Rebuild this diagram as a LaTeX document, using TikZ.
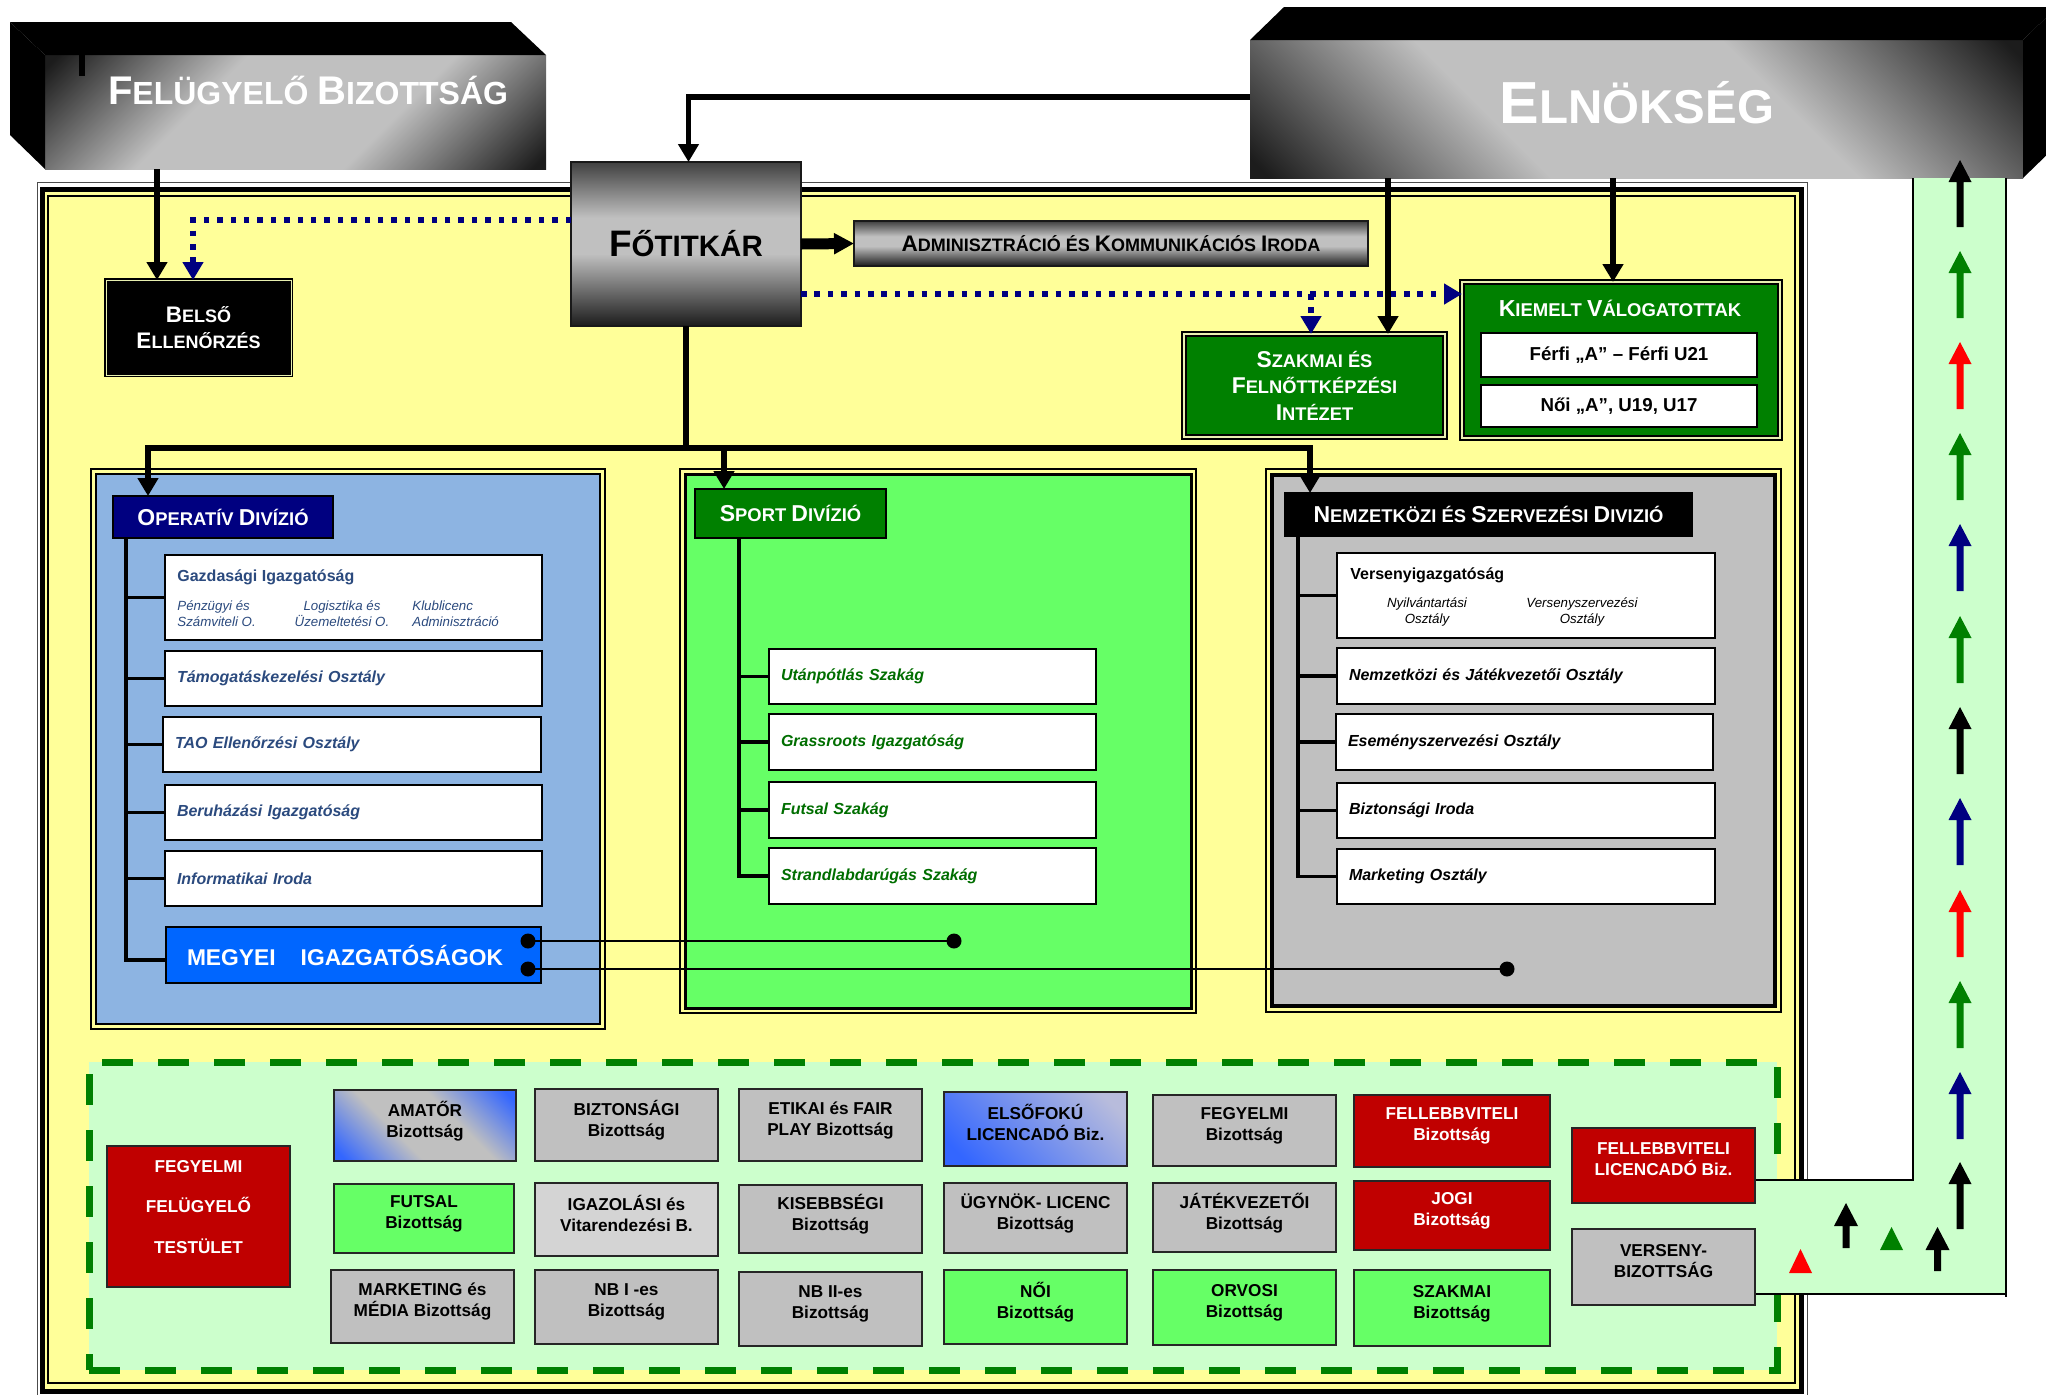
\documentclass[tikz,border=0pt]{standalone}
\usepackage{fontspec}
\setmainfont{Liberation Sans}
\usetikzlibrary{arrows.meta}
\definecolor{yel}{HTML}{FFFF99}
\definecolor{lgreen}{HTML}{CCFFCC}
\definecolor{bgreen}{HTML}{66FF66}
\definecolor{dgreen}{HTML}{008000}
\definecolor{navyc}{HTML}{000080}
\definecolor{opblue}{HTML}{8DB4E2}
\definecolor{megblue}{HTML}{0066FF}
\definecolor{silv}{HTML}{C0C0C0}
\definecolor{lsilv}{HTML}{D4D4D4}
\definecolor{sdark}{HTML}{1C1C1C}
\definecolor{sdarkb}{HTML}{404040}
\definecolor{cred}{HTML}{C00000}
\definecolor{ared}{HTML}{FF0000}
\definecolor{bblue}{HTML}{3366FF}
\definecolor{lavsilv}{HTML}{B8BCDC}
\definecolor{optxtc}{HTML}{2B4A7E}
\definecolor{sptxtc}{HTML}{006E00}
\definecolor{thinl}{HTML}{E8F0B0}
\pgfdeclareverticalshading{silverband}{100bp}{color(0bp)=(sdark); color(16bp)=(sdark); color(38bp)=(silv); color(62bp)=(silv); color(84bp)=(sdark); color(100bp)=(sdark)}
\pgfdeclareverticalshading{silververt}{100bp}{color(0bp)=(sdark); color(25bp)=(sdark); color(47bp)=(silv); color(58bp)=(silv); color(75bp)=(sdarkb); color(100bp)=(sdarkb)}
\pgfdeclareverticalshading{blueband}{100bp}{color(0bp)=(bblue); color(18bp)=(bblue); color(40bp)=(silv); color(60bp)=(silv); color(82bp)=(bblue); color(100bp)=(bblue)}
\pgfdeclareverticalshading{bluelin}{100bp}{color(0bp)=(bblue); color(22bp)=(bblue); color(78bp)=(lavsilv); color(100bp)=(lavsilv)}
\newcommand\pxf[2]{\fontsize{\fpeval{(#1)/2}}{\fpeval{(#2)/2}}\selectfont}
\newcommand\Kc[1]{{\fontsize{\fpeval{\csname f@size\endcsname*1.25}}{1}\selectfont #1}}
\newcommand\blkarrow[7]{\fill[#7] ({#1-#4},{#2+#3}) -- ({#1-#4},{#2+#6}) -- ({#1-#5},{#2+#6}) -- (#1,#2) -- ({#1+#5},{#2+#6}) -- ({#1+#4},{#2+#6}) -- ({#1+#4},{#2+#3}) -- cycle;}
\tikzset{
  at box/.style n args={4}{minimum width={((#3)-(#1))*0.5pt}, minimum height={((#4)-(#2))*0.5pt}, at={({((#1)+(#3))/2},{((#2)+(#4))/2})}, inner sep=0pt, outer sep=0pt, anchor=center},
  wbox/.style n args={4}{at box={#1}{#2}{#3}{#4}, fill=white, draw=black, line width=1.1pt, text width={((#3)-(#1)-24)*0.5pt}, inner xsep=6pt, align=left},
  optx/.style={text=optxtc, font=\pxf{16}{19}\bfseries\itshape},
  sptx/.style={text=sptxtc, font=\pxf{16}{19}\bfseries\itshape},
  nztx/.style={text=black, font=\pxf{16}{19}\bfseries\itshape},
  subt/.style={font=\pxf{13.3}{16}\mdseries\itshape, inner sep=0pt},
  divlabel/.style={draw=black, line width=1pt, text=white, font=\pxf{18.4}{20}\bfseries},
  thickl/.style={line width=2.75pt},
  conn/.style={thickl, -{Triangle[width=10pt,length=9pt]}},
  dotc/.style={draw=navyc, line width=3pt, dash pattern=on 2.75pt off 3.95pt, -{Triangle[width=10pt,length=9pt]}},
  tree/.style={line width=1.6pt},
  cbox/.style n args={4}{at box={#1}{#2}{#3}{#4}, draw=black!85, line width=1.1pt, align=center, font=\pxf{17.2}{21}\bfseries, execute at end node={\rule[-6.5pt]{0pt}{0pt}}},
  ttl/.style={text=white, inner sep=0pt},
}
\begin{document}
\begin{tikzpicture}[x=0.5pt,y=-0.5pt,font=\pxf{16}{19}\bfseries]
\useasboundingbox (0,0) rectangle (2046,1394);
\fill[white] (0,0) rectangle (2046,1394);
% ---------- main frame
\draw[line width=0.5pt,black!70] (37,182) rectangle (1807,1400);
\filldraw[fill=yel, line width=2.5pt] (42.5,189) rectangle (1801.5,1391);
\draw[line width=0.8pt] (48,196) rectangle (1795,1383);
% ---------- Felugyelo Bizottsag
\node[at box={45}{55}{546}{169}, shading=silverband, shading angle=45] (felugy) {};
\fill (felugy.north west) -- ++(-35,-33) -- ++(501,0) -- (felugy.north east) -- cycle;
\fill (felugy.north west) -- ++(-35,-33) -- ++(0,113) -- (felugy.south west) -- cycle;
\fill (79,55) rectangle (85,76);
\node[ttl] (felugy-t) at (308,90) {\pxf{32}{36}\Kc{F}ELÜGYELŐ \Kc{B}IZOTTSÁG};
% ---------- Elnokseg
\node[at box={1250}{40}{2023}{178}, shading=silverband, shading angle=-45] (elnok) {};
\fill (elnok.north west) -- ++(34,-33) -- ++(773,0) -- (elnok.north east) -- cycle;
\fill (elnok.north east) -- ++(34,-33) -- ++(0,138) -- (elnok.south east) -- cycle;
\node[ttl] (elnok-t) at (1637,103) {\pxf{47.5}{50}\Kc{E}LNÖKSÉG};
% ---------- bottom committee region
\node[at box={89}{1062}{1777}{1370}, fill=lgreen, draw=dgreen, line width=3.5pt, dash pattern=on 15.5pt off 12.5pt] (bizregion) {};
% ---------- right channel
\fill[lgreen] (1756,1180) -- (1913,1180) -- (1913,178) -- (2006,178) -- (2006,1294) -- (1756,1294) -- cycle;
\draw[line width=1pt] (1756,1180) -- (1913,1180) -- (1913,178);
\draw[line width=1pt] (2006,178) -- (2006,1297);
\draw[line width=1pt] (1756,1294) -- (2006,1294);
\foreach \yy/\cc in {160/black,251/dgreen,342/ared,433/dgreen,524/navyc,616/dgreen,707/black,798/navyc,890/ared,981/dgreen,1072/navyc,1162/black}
  {\blkarrow{1960}{\yy}{67}{3.5}{11.5}{22}{\cc}}
\blkarrow{1846}{1203}{45}{3.5}{12}{23}{black}
\blkarrow{1937.5}{1227}{44}{3.5}{12}{23}{black}
\fill[ared] (1789,1273) -- (1812,1273) -- (1800.5,1249) -- cycle;
\fill[dgreen] (1880,1250) -- (1903,1250) -- (1891.5,1227) -- cycle;
% ---------- committees
\node[cbox={107}{1146}{290}{1287}, fill=cred, text=white, font=\pxf{17.2}{40.5}\bfseries, execute at end node={\rule[-10pt]{0pt}{0pt}}] (fft) {FEGYELMI\\FELÜGYELŐ\\TESTÜLET};
\node[cbox={334}{1090}{516}{1161}, shading=blueband, shading angle=-45] (amator) {AMATŐR\\Bizottság};
\node[cbox={334}{1184}{514}{1253}, fill=bgreen] (futsalb) {FUTSAL\\Bizottság};
\node[cbox={331}{1270}{514}{1343}, fill=silv] (marketb) {MARKETING és\\MÉDIA Bizottság};
\node[cbox={535}{1089}{718}{1161}, fill=silv] (biztb) {BIZTONSÁGI\\Bizottság};
\node[cbox={535}{1183}{718}{1256}, fill=lsilv] (igazb) {IGAZOLÁSI és\\Vitarendezési B.};
\node[cbox={535}{1270}{718}{1344}, fill=silv] (nb1) {NB I -es\\Bizottság};
\node[cbox={739}{1089}{922}{1161}, fill=silv] (etikai) {ETIKAI és FAIR\\PLAY Bizottság};
\node[cbox={739}{1185}{922}{1253}, fill=silv] (kisebb) {KISEBBSÉGI\\Bizottság};
\node[cbox={739}{1272}{922}{1346}, fill=silv] (nb2) {NB II-es\\Bizottság};
\node[cbox={944}{1092}{1127}{1166}, shading=bluelin, shading angle=-45] (elsof) {ELSŐFOKÚ\\LICENCADÓ Biz.};
\node[cbox={944}{1183}{1127}{1253}, fill=silv] (ugynok) {ÜGYNÖK- LICENC\\Bizottság};
\node[cbox={944}{1270}{1127}{1344}, fill=bgreen] (noib) {NŐI\\Bizottság};
\node[cbox={1153}{1095}{1336}{1166}, fill=silv] (fegyb) {FEGYELMI\\Bizottság};
\node[cbox={1153}{1183}{1336}{1252}, fill=silv] (jatekb) {JÁTÉKVEZETŐI\\Bizottság};
\node[cbox={1153}{1270}{1336}{1345}, fill=bgreen] (orvosi) {ORVOSI\\Bizottság};
\node[cbox={1354}{1095}{1550}{1167}, fill=cred, text=white] (fellb) {FELLEBBVITELI\\Bizottság};
\node[cbox={1354}{1181}{1550}{1250}, fill=cred, text=white] (jogi) {JOGI\\Bizottság};
\node[cbox={1354}{1270}{1550}{1346}, fill=bgreen] (szakmaib) {SZAKMAI\\Bizottság};
\node[cbox={1572}{1128}{1755}{1203}, fill=cred, text=white] (fellic) {FELLEBBVITELI\\LICENCADÓ Biz.};
\node[cbox={1572}{1229}{1755}{1305}, fill=silv] (verseny) {VERSENY-\\BIZOTTSÁG};
% ---------- Operativ Divizio
\node[at box={96}{474}{600}{1024}, fill=opblue, draw=black, line width=1.25pt] (opdiv) {};
\draw[line width=0.75pt] ([shift={(-5,-5)}]opdiv.north west) rectangle ([shift={(5,5)}]opdiv.south east);
\node[at box={113}{496}{333}{538}, divlabel, fill=navyc] (oplabel) {\Kc{O}PERATÍV \Kc{D}IVÍZIÓ};
\node[wbox={165}{555}{542}{640}] (gazd) {};
\node[anchor=base west, inner sep=0pt, text=optxtc, font=\pxf{16}{19}\bfseries] (gazd-t) at (177,581) {Gazdasági Igazgatóság};
\node[subt, text=optxtc, anchor=west, align=left] (gazd-s1) at (177,614) {Pénzügyi és\\Számviteli O.};
\node[subt, text=optxtc, align=center] (gazd-s2) at (342,614) {Logisztika és\\Üzemeltetési O.};
\node[subt, text=optxtc, anchor=west, align=left] (gazd-s3) at (412,614) {Klublicenc\\ Adminisztráció};
\node[wbox={165}{651}{542}{706}, optx] (tamog) {Támogatáskezelési Osztály};
\node[wbox={163}{717}{541}{772}, optx] (tao) {TAO Ellenőrzési Osztály};
\node[wbox={165}{785}{542}{840}, optx] (beruh) {Beruházási Igazgatóság};
\node[wbox={165}{851}{542}{906}, optx] (inform) {Informatikai Iroda};
\node[at box={166}{927}{541}{983}, fill=megblue, draw=black, line width=1.1pt, text=white, font=\pxf{22.8}{24}\bfseries, align=left, text width={(375-42)*0.5pt}, inner xsep=10.5pt] (megyei) {MEGYEI\hspace{12.5pt}IGAZGATÓSÁGOK};
\coordinate (ot) at ([xshift=6.5pt]oplabel.south west);
\draw[tree] (ot) |- ([yshift=-2.5pt]megyei.west);
\foreach \n in {gazd,tamog,tao,beruh,inform} \draw[tree] (ot |- \n.west) -- (\n.west);
% ---------- Sport Divizio
\node[at box={685}{474}{1191}{1008}, fill=bgreen, draw=black, line width=1.5pt] (spdiv) {};
\draw[line width=0.75pt] ([shift={(-5,-5)}]spdiv.north west) rectangle ([shift={(5,5)}]spdiv.south east);
\node[at box={695}{489}{886}{538}, divlabel, fill=dgreen] (splabel) {\Kc{S}PORT \Kc{D}IVÍZIÓ};
\node[wbox={769}{649}{1096}{704}, sptx] (utan) {Utánpótlás Szakág};
\node[wbox={769}{714}{1096}{770}, sptx] (gras) {Grassroots Igazgatóság};
\node[wbox={769}{782}{1096}{838}, sptx] (futs) {Futsal Szakág};
\node[wbox={769}{848}{1096}{904}, sptx] (strand) {Strandlabdarúgás Szakág};
\coordinate (st) at ([xshift=22pt]splabel.south west);
\draw[tree] (st) |- (strand.west);
\foreach \n in {utan,gras,futs} \draw[tree] (st |- \n.west) -- (\n.west);
% ---------- Nemzetkozi Divizio
\node[at box={1272}{475}{1775}{1006}, fill=silv, draw=black, line width=2pt] (nzdiv) {};
\draw[line width=0.75pt] ([shift={(-6,-6)}]nzdiv.north west) rectangle ([shift={(6,6)}]nzdiv.south east);
\node[at box={1285}{493}{1692}{536}, divlabel, fill=black] (nzlabel) {\Kc{N}EMZETKÖZI ÉS \Kc{S}ZERVEZÉSI \Kc{D}IVIZIÓ};
\node[wbox={1337}{553}{1715}{638}] (versi) {};
\node[anchor=base west, inner sep=0pt, text=black, font=\pxf{16}{19}\bfseries] (versi-t) at (1350,579) {Versenyigazgatóság};
\node[subt, align=center] (versi-s1) at (1427,612) {Nyilvántartási\\Osztály};
\node[subt, align=center] (versi-s2) at (1582,612) {Versenyszervezési\\Osztály};
\node[wbox={1337}{648}{1715}{704}, nztx] (nemjat) {Nemzetközi és Játékvezetői Osztály};
\node[wbox={1336}{714}{1713}{770}, nztx] (esem) {Eseményszervezési Osztály};
\node[wbox={1337}{783}{1715}{838}, nztx] (bizt) {Biztonsági Iroda};
\node[wbox={1337}{849}{1715}{904}, nztx] (mark) {Marketing Osztály};
\coordinate (nt) at ([xshift=6.5pt]nzlabel.south west);
\draw[tree] (nt) |- (mark.west);
\foreach \n in {versi,nemjat,esem,bizt} \draw[tree] (nt |- \n.west) -- (\n.west);
% ---------- Megyei links
\coordinate (mg1) at (528,941);
\coordinate (sp-dot) at (954,941);
\coordinate (mg2) at (528,969);
\coordinate (nz-dot) at (1507,969);
\draw[line width=1.25pt] (mg1) -- (sp-dot);
\draw[line width=1.25pt] (mg2) -- (nz-dot);
\foreach \p in {mg1,sp-dot,mg2,nz-dot} \fill (\p) circle (3.75pt);
% ---------- upper boxes
\node[at box={106}{280}{291}{375}, fill=black, draw=black, line width=0.9pt, double=thinl, double distance=0.5pt, text=white, align=center, font=\pxf{18}{26}\bfseries] (belso) {\Kc{B}ELSŐ\\\Kc{E}LLENŐRZÉS};
\node[at box={1184}{334}{1445}{437}, fill=dgreen, draw=black, line width=1pt, double=thinl, double distance=1pt, text=white, align=center, font=\pxf{18.3}{26.5}\bfseries] (szakmai) {\Kc{S}ZAKMAI ÉS\\\Kc{F}ELNŐTTKÉPZÉSI\\\Kc{I}NTÉZET};
\node[at box={1462}{282}{1780}{438}, fill=dgreen, draw=black, line width=1pt, double=thinl, double distance=1pt] (kiemelt) {};
\node[ttl, font=\pxf{18.5}{20}\bfseries] (kiemelt-t) at (1620,308) {\Kc{K}IEMELT \Kc{V}ÁLOGATOTTAK};
\node[at box={1481}{333}{1757}{377}, fill=white, draw=black, line width=1pt, font=\pxf{18.7}{20}\bfseries] (ferfi) {Férfi „A” – Férfi U21};
\node[at box={1481}{385}{1757}{427}, fill=white, draw=black, line width=1pt, font=\pxf{18.7}{20}\bfseries] (noi) {Női „A”, U19, U17};
\node[at box={571}{162}{801}{326}, shading=silververt, draw=black!90, line width=1.25pt, font=\pxf{29.5}{32}\bfseries] (fotitkar) {\Kc{F}ŐTITKÁR};
\node[at box={854}{221}{1368}{266}, shading=silververt, draw=black!90, line width=1.25pt, font=\pxf{18}{20}\bfseries] (admin) {\Kc{A}DMINISZTRÁCIÓ ÉS \Kc{K}OMMUNIKÁCIÓS \Kc{I}RODA};
% ---------- connectors
\draw[line width=5.5pt, -{Triangle[width=10pt,length=10pt]}] (fotitkar.east) -- (admin.west);
\draw[conn] ([yshift=6pt]elnok.west) -| ([xshift=1.25pt]fotitkar.north);
\draw[conn] (felugy.south -| 157,0) -- (belso.north -| 157,0);
\draw[dotc] (fotitkar.west |- 0,220) -| (belso.north -| 193,0);
\draw[dotc] (fotitkar.east |- 0,294) -- (kiemelt.west |- 0,294);
\coordinate (br) at (1311,294);
\draw[dotc] (br) -- (szakmai.north -| br);
\draw[conn] (elnok.south -| 1388,0) -- (szakmai.north -| 1388,0);
\draw[conn] (elnok.south -| 1613,0) -- (kiemelt.north -| 1613,0);
\coordinate (hub) at (fotitkar.south |- 0,448);
\draw[thickl] (fotitkar.south) -- (hub);
\draw[conn] (hub) -| (oplabel.north -| 148,0);
\draw[conn] (hub) -| (splabel.north -| 724,0);
\draw[conn] (hub) -| (nzlabel.north -| 1310,0);
\end{tikzpicture}
\end{document}
